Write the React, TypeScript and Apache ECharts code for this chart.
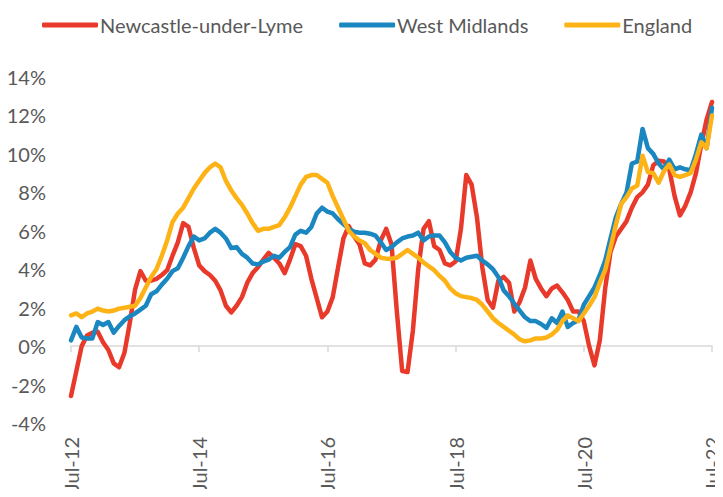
import React, { useEffect, useRef } from "react";
import * as echarts from "echarts";

const MONTHS = ["Jan", "Feb", "Mar", "Apr", "May", "Jun", "Jul", "Aug", "Sep", "Oct", "Nov", "Dec"];
// Monthly categories Jul-12 .. Jul-22
const categories: string[] = [];
for (let k = 0; k <= 120; k++) {
  const m = (6 + k) % 12;
  const y = 12 + Math.floor((6 + k) / 12);
  categories.push(`${MONTHS[m]}-${y}`);
}

const yTicks = [-4, -2, 0, 2, 4, 6, 8, 10, 12, 14];

const newcastle = [
  -2.6, -1.3, 0.0, 0.55, 0.7, 0.75, 0.2, -0.2, -0.9, -1.1,
  -0.35, 1.2, 2.95, 3.9, 3.4, 3.4, 3.5, 3.7, 3.95, 4.7,
  5.4, 6.4, 6.2, 5.1, 4.2, 3.9, 3.7, 3.4, 2.9, 2.1,
  1.75, 2.1, 2.55, 3.3, 3.8, 4.1, 4.5, 4.85, 4.6, 4.3,
  3.8, 4.5, 5.3, 5.2, 4.7, 3.5, 2.5, 1.5, 1.8, 2.55,
  4.1, 5.6, 6.25, 5.7, 5.3, 4.3, 4.2, 4.5, 5.5, 6.1,
  5.3, 1.8, -1.3, -1.35, 0.8, 4.0, 6.1, 6.5, 5.2, 5.0,
  4.3, 4.2, 4.4, 6.1, 8.9, 8.4, 6.7, 4.1, 2.4, 2.0,
  3.4, 3.6, 3.3, 1.8, 2.3, 3.05, 4.45, 3.5, 3.0, 2.6,
  3.0, 3.15, 2.8, 2.4, 1.8, 1.8, 1.3, 0.0, -1.0, 0.3,
  3.0, 4.9, 5.7, 6.1, 6.5, 7.2, 7.75, 8.0, 8.4, 9.4,
  9.65, 9.6, 9.2, 7.8, 6.8, 7.3, 8.0, 9.0, 10.5, 11.8,
  12.7,
];

const westMidlands = [
  0.3, 1.0, 0.45, 0.4, 0.4, 1.25, 1.1, 1.25, 0.7, 1.05,
  1.35, 1.55, 1.7, 1.9, 2.1, 2.7, 2.85, 3.2, 3.5, 3.9,
  4.05, 4.6, 5.2, 5.7, 5.5, 5.6, 5.9, 6.1, 5.9, 5.6,
  5.1, 5.15, 4.8, 4.6, 4.3, 4.25, 4.4, 4.5, 4.7, 4.6,
  4.9, 5.15, 5.8, 6.0, 5.9, 6.2, 6.9, 7.2, 7.0, 6.9,
  6.6, 6.35, 6.1, 5.95, 5.9, 5.9, 5.85, 5.75, 5.4, 5.0,
  5.15, 5.4, 5.6, 5.7, 5.75, 5.9, 5.5, 5.7, 5.75, 5.75,
  5.4, 4.9, 4.6, 4.45, 4.6, 4.65, 4.7, 4.45, 4.25, 4.0,
  3.6, 2.9, 2.6, 2.2, 1.85, 1.5, 1.3, 1.3, 1.15, 0.95,
  1.45, 1.2, 1.8, 1.0, 1.2, 1.35, 2.15, 2.6, 3.05, 3.7,
  4.45, 5.6, 6.7, 7.4, 8.0, 9.5, 9.6, 11.3, 10.3, 10.0,
  9.5, 9.2, 9.7, 9.2, 9.3, 9.2, 9.15, 10.0, 11.0, 10.3,
  12.4,
];

const england = [
  1.6, 1.7, 1.5, 1.7, 1.8, 1.95, 1.85, 1.8, 1.85, 1.95,
  2.0, 2.05, 2.1, 2.5, 3.05, 3.6, 4.0, 4.7, 5.5, 6.45,
  6.9, 7.2, 7.7, 8.2, 8.6, 9.0, 9.3, 9.5, 9.3, 8.6,
  8.1, 7.7, 7.35, 6.9, 6.4, 6.0, 6.1, 6.1, 6.2, 6.3,
  6.7, 7.2, 7.8, 8.4, 8.8, 8.9, 8.9, 8.7, 8.5, 7.8,
  7.2, 6.6, 6.0, 5.7, 5.5, 5.35, 5.0, 4.8, 4.6, 4.55,
  4.55, 4.6, 4.8, 5.0, 4.8, 4.6, 4.35, 4.15, 3.95, 3.65,
  3.4, 3.0, 2.75, 2.6, 2.55, 2.5, 2.4, 2.15, 1.8, 1.45,
  1.2, 1.0, 0.8, 0.6, 0.35, 0.25, 0.3, 0.4, 0.4, 0.45,
  0.6, 0.85, 1.3, 1.6, 1.45, 1.3, 1.7, 2.1, 2.55, 3.3,
  3.95, 5.1, 6.3, 7.4, 7.75, 8.2, 8.35, 9.9, 9.05, 9.0,
  8.5, 9.1, 9.45, 8.9, 8.8, 8.9, 9.0, 9.7, 10.6, 10.3,
  12.0,
];

const seriesNames = ["Newcastle-under-Lyme", "West Midlands", "England"];
const seriesColors = ["#E8392A", "#1A87C1", "#FDB316"];
const seriesData = [newcastle, westMidlands, england];

const FONT = "Lato, 'Noto Sans', sans-serif";
const TEXT = "#595959";

export default function App() {
  const ref = useRef<HTMLDivElement>(null);
  useEffect(() => {
    if (!ref.current) return;
    const chart = echarts.init(ref.current, undefined, { renderer: "svg" });
    chart.setOption({
      animation: false,
      textStyle: { fontFamily: FONT },
      legend: {
        left: 37,
        top: 10,
        icon: "roundRect",
        itemWidth: 56,
        itemHeight: 5,
        itemGap: 36,
        textStyle: { fontSize: 20, color: TEXT, fontFamily: FONT, padding: [0, 0, 0, -3] },
        data: seriesNames,
      },
      grid: { left: 71, right: 11, top: 77, bottom: 74, containLabel: false },
      xAxis: [
        {
          type: "category",
          data: categories,
          boundaryGap: false,
          position: "bottom",
          axisLine: { show: false, onZero: false },
          axisTick: { show: false },
          splitLine: { show: false },
          axisLabel: {
            interval: 23,
            rotate: 90,
            margin: 14,
            fontSize: 20,
            color: TEXT,
            fontFamily: FONT,
          },
        },
        {
          type: "category",
          data: categories,
          boundaryGap: false,
          position: "bottom",
          axisLine: { show: true, onZero: true, lineStyle: { color: "#D9D9D9", width: 1.5 } },
          axisTick: { show: true, interval: 23, length: 6, lineStyle: { color: "#D9D9D9", width: 1.5 } },
          axisLabel: { show: false },
          splitLine: { show: false },
        },
      ],
      yAxis: {
        type: "value",
        min: yTicks[0],
        max: yTicks[yTicks.length - 1],
        interval: 2,
        axisLine: { show: false },
        axisTick: { show: false },
        splitLine: { show: false },
        axisLabel: {
          margin: 25,
          fontSize: 20,
          color: TEXT,
          fontFamily: FONT,
          formatter: (v: number) => `${v}%`,
        },
      },
      series: seriesNames.map((name, i) => ({
        name,
        type: "line",
        xAxisIndex: 0,
        data: seriesData[i],
        showSymbol: false,
        symbol: "none",
        color: seriesColors[i],
        lineStyle: { color: seriesColors[i], width: 4.5, cap: "round", join: "round" },
        z: 2 + i,
      })),
    });
    return () => chart.dispose();
  }, []);
  return <div ref={ref} style={{ width: 723, height: 497, margin: -8 }} />;
}
